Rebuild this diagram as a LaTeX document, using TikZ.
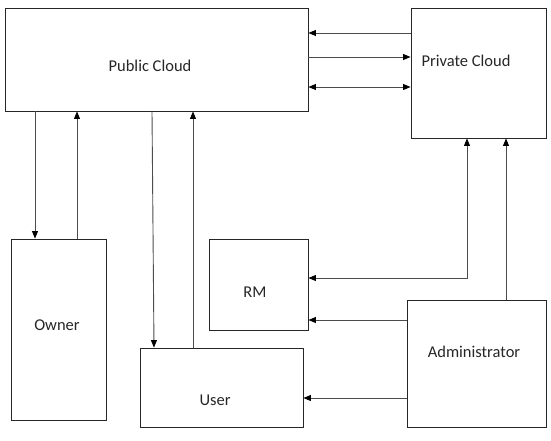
\documentclass[tikz,border=0pt]{standalone}
\usepackage{fontspec}
\setmainfont{Carlito}
\usetikzlibrary{arrows.meta}
\tikzset{
  box/.style={draw, line width=0.9pt, draw=black!85, inner sep=0pt},
  lbl/.style={font=\fontsize{16.5}{18}\selectfont, text=black!85, inner sep=0pt},
  arr/.style={->, line width=0.9pt, draw=black!70},
  arrs/.style={<->, line width=0.9pt, draw=black!70},
  >={Triangle[length=7.5pt,width=6pt,fill=black,color=black]},
}
\begin{document}
\begin{tikzpicture}[x=1pt, y=-1pt]
  \useasboundingbox (0,0) rectangle (551,440);
  % boxes
  \node[box, minimum width=303, minimum height=103] (pub) at (156.5,59.5) {};
  \node[box, minimum width=135, minimum height=130] (priv) at (478.5,73) {};
  \node[box, minimum width=95, minimum height=181] (own) at (58.5,329.5) {};
  \node[box, minimum width=99, minimum height=91] (rm) at (258.5,284.5) {};
  \node[box, minimum width=163, minimum height=79] (usr) at (221.5,387.5) {};
  \node[box, minimum width=139, minimum height=127] (adm) at (476.5,363.5) {};
  % labels
  \node[lbl] (pubtxt) at (150,66) {Public Cloud};
  \node[lbl] (privtxt) at (466,61) {Private Cloud};
  \node[lbl] (owntxt) at (57,325) {Owner};
  \node[lbl] (rmtxt) at (255,292) {RM};
  \node[lbl] (usrtxt) at (215,400) {User};
  \node[lbl] (admtxt) at (474,352) {Administrator};
  % clouds
  \draw[arr] (priv.west |- 0,33) -- (pub.east |- 0,33);
  \draw[arr] (pub.east |- 0,57) -- (priv.west |- 0,57);
  \draw[arrs] (pub.east |- 0,87) -- (priv.west |- 0,87);
  % owner and user
  \draw[arr] (pub.south -| 35,0) -- (own.north -| 35,0);
  \draw[arr] (own.north -| 77,0) -- (pub.south -| 77,0);
  \draw[arr] (pub.south -| 152,0) -- (usr.north -| 154,0);
  \draw[arr] (usr.north -| 193,0) -- (pub.south -| 193,0);
  % administrator and rm
  \draw[arrs] (rm.east |- 0,278) -| (priv.south -| 467,0);
  \draw[arr] (adm.north -| 506,0) -- (priv.south -| 506,0);
  \draw[arr] (adm.west |- 0,320) -- (rm.east |- 0,320);
  \draw[arr] (adm.west |- 0,398) -- (usr.east |- 0,398);
\end{tikzpicture}
\end{document}
